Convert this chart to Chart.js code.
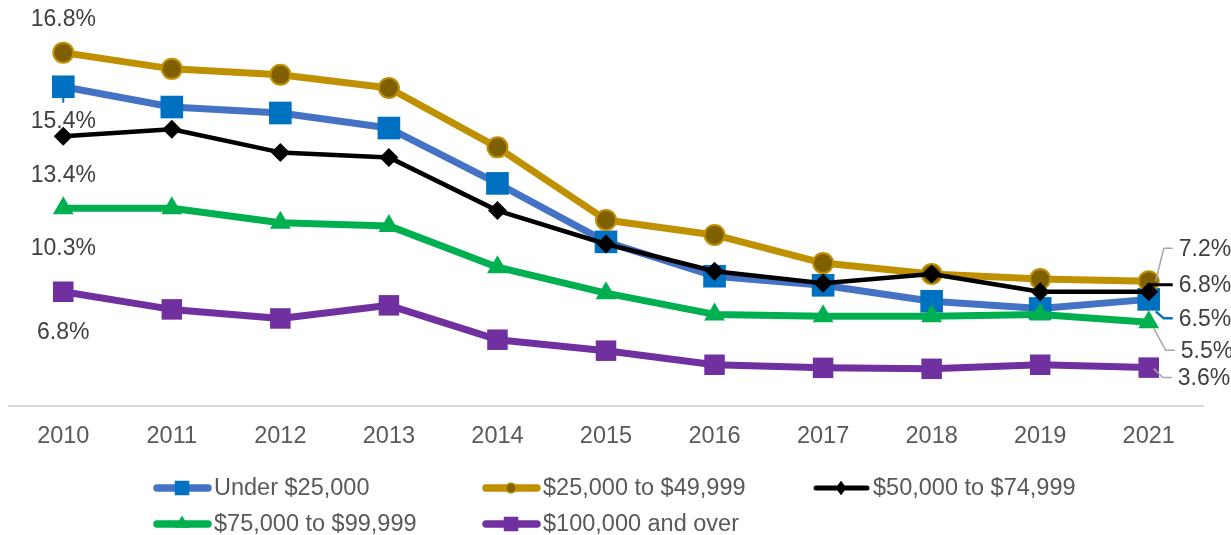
<!DOCTYPE html>
<html><head><meta charset="utf-8">
<script src="https://cdn.jsdelivr.net/npm/chart.js@4/dist/chart.umd.min.js"></script>
<style>html,body{margin:0;padding:0;background:#fff;}#wrap{width:1231px;height:535px;}</style>
</head><body><div id="wrap"><canvas id="c" width="1231" height="535"></canvas></div>
<script>
// ---- data ----
const years = ['2010','2011','2012','2013','2014','2015','2016','2017','2018','2019','2021'];
const seriesNames = ['Under $25,000','$25,000 to $49,999','$50,000 to $74,999','$75,000 to $99,999','$100,000 and over'];
const under25k   = [15.37, 14.52, 14.27, 13.64, 11.32, 8.87, 7.43, 7.05, 6.38, 6.08, 6.46];
const from25to50 = [16.8, 16.12, 15.87, 15.32, 12.83, 9.79, 9.16, 7.98, 7.52, 7.31, 7.22];
const from50to75 = [13.3, 13.59, 12.62, 12.41, 10.18, 8.78, 7.64, 7.14, 7.52, 6.78, 6.78];
const from75to100= [10.28, 10.28, 9.67, 9.54, 7.81, 6.72, 5.83, 5.75, 5.75, 5.83, 5.5];
const over100k   = [6.78, 6.04, 5.66, 6.21, 4.77, 4.31, 3.72, 3.59, 3.55, 3.72, 3.6];
const startLabels = ['15.4%','16.8%','13.4%','10.3%','6.8%'];
const endLabels   = ['6.5%','7.2%','6.8%','5.5%','3.6%'];

const FONT = '"Liberation Sans", Arial, sans-serif';
const lineColors = ['#4472C4','#BF9000','#000000','#00B050','#7030A0'];
const markFill   = ['#0070C0','#7F6000','#000000','#00B050','#7030A0'];
const markBorder = ['#0070C0','#BF9000','#000000','#00B050','#7030A0'];
const markStyle  = ['rect','circle','rectRot','triangle','rect'];
const markRadius = [16, 10, 9.5, 12, 14.5];
const lineW      = [7, 7, 4.5, 7, 7];
const allData = [under25k, from25to50, from50to75, from75to100, over100k];

// label placement (pixel offsets relative to the data point)
const startDy = [35, -33, 40, 40, 41];
const endDx = [30, 30, 30, 32, 29];
const endDy = [20, -32, -6, 29, 11];
const leadEnd = [[7, 12], [7, 0], [0, -7], [5, 6], [5, 1]];
const leaderColor = ['#0070C0','#A6A6A6','#000000','#A6A6A6','#A6A6A6'];

const labelPlugin = {
  id: 'labelPlugin',
  afterDatasetsDraw(chart) {
    const ctx = chart.ctx;
    ctx.save();
    ctx.font = '23px ' + FONT;
    ctx.textBaseline = 'middle';
    chart.data.datasets.forEach((ds, i) => {
      const meta = chart.getDatasetMeta(i);
      const p0 = meta.data[0];
      const pN = meta.data[meta.data.length - 1];
      ctx.fillStyle = '#404040';
      ctx.textAlign = 'center';
      ctx.fillText(startLabels[i], p0.x, p0.y + startDy[i]);
      const lx = pN.x + endDx[i];
      const ly = pN.y + endDy[i];
      ctx.strokeStyle = leaderColor[i];
      ctx.lineWidth = (i === 2) ? 3 : (i === 0 ? 2.5 : 1.5);
      ctx.beginPath();
      ctx.moveTo(lx - 6, ly - 1);
      ctx.lineTo(lx - 15, ly - 1);
      ctx.lineTo(pN.x + leadEnd[i][0], pN.y + leadEnd[i][1]);
      ctx.stroke();
      ctx.textAlign = 'left';
      ctx.fillStyle = '#404040';
      ctx.fillText(endLabels[i], lx, ly);
    });
    const b0 = chart.getDatasetMeta(0).data[0];
    ctx.strokeStyle = '#0070C0'; ctx.lineWidth = 2;
    ctx.beginPath(); ctx.moveTo(b0.x, b0.y + 10); ctx.lineTo(b0.x, b0.y + 16); ctx.stroke();
    ctx.restore();
  }
};

const legendPlugin = {
  id: 'legendPlugin',
  afterDraw(chart) {
    const ctx = chart.ctx;
    const cols = [153, 482, 812];
    const rows = [488, 524];
    ctx.save();
    seriesNames.forEach((name, i) => {
      const x = cols[i % 3], y = rows[Math.floor(i / 3)];
      ctx.strokeStyle = lineColors[i];
      ctx.lineWidth = i === 2 ? 5 : 7.5;
      ctx.lineCap = 'round';
      ctx.beginPath(); ctx.moveTo(x + 4, y); ctx.lineTo(x + 55, y); ctx.stroke();
      const cx = x + 29;
      ctx.fillStyle = markFill[i];
      ctx.strokeStyle = markBorder[i];
      ctx.lineWidth = 1.5;
      ctx.beginPath();
      if (markStyle[i] === 'rect') { ctx.rect(cx - 6.5, y - 6.5, 13, 13); }
      else if (markStyle[i] === 'circle') { ctx.arc(cx, y, 5, 0, Math.PI * 2); }
      else if (markStyle[i] === 'rectRot') { ctx.moveTo(cx, y - 6); ctx.lineTo(cx + 4.5, y); ctx.lineTo(cx, y + 6); ctx.lineTo(cx - 4.5, y); ctx.closePath(); }
      else { ctx.moveTo(cx, y - 7); ctx.lineTo(cx + 6, y + 3); ctx.lineTo(cx - 6, y + 3); ctx.closePath(); }
      ctx.fill(); ctx.stroke();
      ctx.fillStyle = '#595959';
      ctx.font = '23.5px ' + FONT;
      ctx.textAlign = 'left';
      ctx.textBaseline = 'middle';
      ctx.fillText(name, x + 61, y + 1);
    });
    ctx.restore();
  }
};

const datasets = allData.map((d, i) => ({
  label: seriesNames[i],
  data: d,
  borderColor: lineColors[i],
  borderWidth: lineW[i],
  backgroundColor: markFill[i],
  pointStyle: markStyle[i],
  pointRadius: markRadius[i],
  pointHoverRadius: markRadius[i],
  pointBackgroundColor: markFill[i],
  pointBorderColor: markBorder[i],
  pointBorderWidth: i === 1 ? 2 : 0,
  tension: 0,
  borderJoinStyle: 'round',
  borderCapStyle: 'round',
  order: 5 - i,
  clip: false
}));

new Chart(document.getElementById('c'), {
  type: 'line',
  data: { labels: years, datasets },
  options: {
    responsive: false,
    animation: false,
    devicePixelRatio: 1,
    layout: { autoPadding: false, padding: { left: 9, right: 28, top: 24, bottom: 67 } },
    plugins: { legend: { display: false }, tooltip: { enabled: false } },
    scales: {
      x: {
        offset: true,
        grid: { display: false, drawTicks: false },
        border: { display: true, color: '#D9D9D9', width: 2 },
        ticks: { color: '#595959', font: { family: FONT, size: 23.5 }, padding: 17 }
      },
      y: { display: false, min: 2, max: 18 }
    }
  },
  plugins: [labelPlugin, legendPlugin]
});
</script></body></html>
